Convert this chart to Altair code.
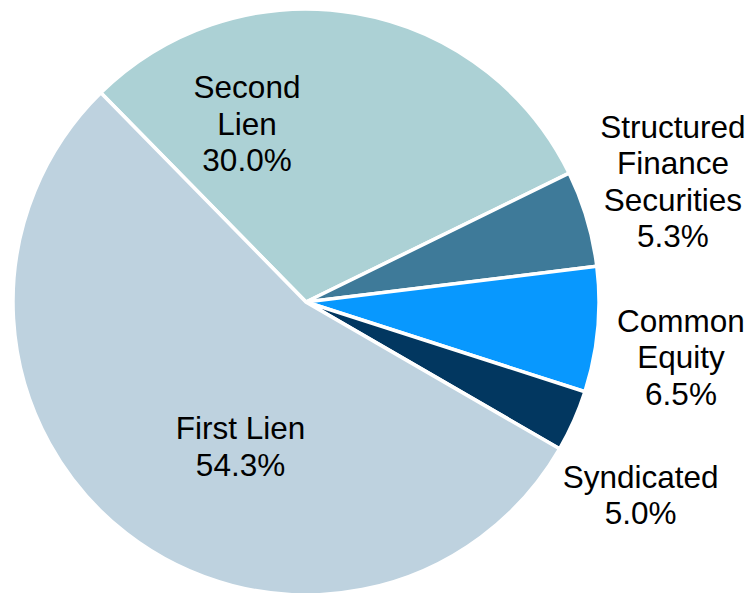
import math
import altair as alt
import pandas as pd

# ---- data ----
categories = ["Second Lien", "Structured Finance Securities", "Common Equity", "Syndicated", "First Lien"]
shares = [30.1, 5.3, 6.9, 3.4, 54.3]          # slice sizes as drawn (percent of circle)
label_texts = ["Second\nLien\n30.0%", "Structured\nFinance\nSecurities\n5.3%",
               "Common\nEquity\n6.5%", "Syndicated\n5.0%", "First Lien\n54.3%"]
colors = ["#ACD1D5", "#3E7A99", "#0898FE", "#023760", "#BED2DF"]

df = pd.DataFrame({
    "category": categories,
    "share": shares,
    "label": label_texts,
    "order": list(range(len(categories))),
})

# ---- layout / style ----
CX, CY, R = 298, 294, 293
start = math.radians(315.55)
theta_scale = alt.Scale(domain=[0, 100], range=[start, start + 2 * math.pi])
color_scale = alt.Scale(domain=categories, range=colors)
FONT = "Liberation Sans"
FS = 31.5
LH = 36.5

# label placement: radius and pixel nudge per slice
label_place = {
    "Second Lien": (187, -90.6, 8.3),
    "Structured Finance Securities": (387, -4, -8.3),
    "Common Equity": (382, -5.3, 21),
    "Syndicated": (386.8, -18.9, 38),
    "First Lien": (158.2, 31.5, 21.5),
}

base = alt.Chart(df).transform_stack(
    stack="share", as_=["v0", "v1"], groupby=[],
    sort=[alt.SortField("order", order="ascending")],
)

arcs = base.mark_arc(outerRadius=R, stroke="white", strokeWidth=3.5).encode(
    theta=alt.Theta("v0:Q", scale=theta_scale),
    theta2="v1:Q",
    color=alt.Color("category:N", scale=color_scale, legend=None),
    x=alt.value(CX),
    y=alt.value(CY),
)

layers = [arcs]
for name in categories:
    r, dx, dy = label_place[name]
    n_lines = df.loc[df.category == name, "label"].iloc[0].count("\n") + 1
    t = base.transform_calculate(mid="(datum.v0 + datum.v1) / 2").transform_filter(
        alt.datum.category == name
    ).mark_text(
        radius=r, dx=dx, dy=dy - (n_lines - 1) * LH / 2,
        font=FONT, fontSize=FS, lineHeight=LH, lineBreak="\n",
        align="center", baseline="middle", color="black",
    ).encode(
        theta=alt.Theta("mid:Q", scale=theta_scale),
        text="label:N",
        x=alt.value(CX),
        y=alt.value(CY),
    )
    layers.append(t)

chart = alt.layer(*layers).properties(
    width=737, height=585, autosize=alt.AutoSizeParams(type="none"), padding=0
).configure_view(stroke=None)

chart.save("out.html", embed_options={"renderer": "svg", "actions": False})
